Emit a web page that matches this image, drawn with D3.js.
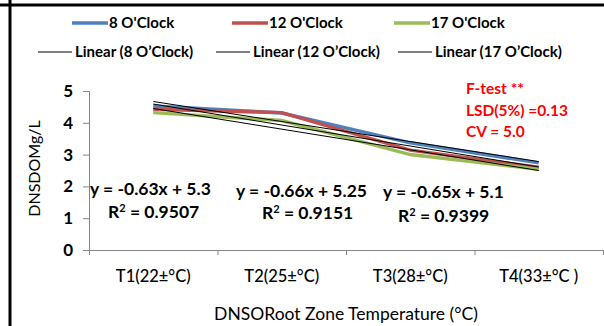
<!DOCTYPE html>
<html>
<head>
<meta charset="utf-8">
<script src="https://cdn.jsdelivr.net/npm/d3@7"></script>
<style>
  body { margin: 0; background: #fff; }
  text { font-family: Lato, "Open Sans", sans-serif; }
</style>
</head>
<body>
<div id="chart"></div>
<script>
const categories = ["T1(22±°C)", "T2(25±°C)", "T3(28±°C)", "T4(33±°C )"]

const eightOClock = [4.53, 4.31, 3.37, 2.74]
const twelveOClock = [4.43, 4.32, 3.14, 2.60]
const seventeenOClock = [4.32, 4.07, 3.00, 2.54]

const seriesNames = ["8 O'Clock", "12 O'Clock", "17 O'Clock"]
const trendNames = ["Linear (8 O’Clock)", "Linear (12 O’Clock)", "Linear (17 O’Clock)"]
const colors = ["#4F81BD", "#C0504D", "#9BBB59"]

// trendline equations as printed on the chart
const slopes = [-0.63, -0.66, -0.65]
const intercepts = [5.3, 5.25, 5.1]
const eqLabels = ["y = -0.63x + 5.3", "y = -0.66x + 5.25", "y = -0.65x + 5.1"]
const r2Labels = ["0.9507", "0.9151", "0.9399"]

const yTicks = [0, 1, 2, 3, 4, 5]
const statLines = ["F-test **", "LSD(5%) =0.13", "CV = 5.0"]

const fullWidth = 604
const fullHeight = 326

const plot = { left: 89, right: 603, top: 91, bottom: 250 }

const svg = d3.select("#chart")
              .append("svg")
              .attr("width", fullWidth)
              .attr("height", fullHeight)

// frame lines on the left and top
svg.append("line")
   .attr("x1", 10).attr("x2", 10).attr("y1", 0).attr("y2", fullHeight)
   .attr("stroke", "#000").attr("stroke-width", 3)
svg.append("line")
   .attr("x1", 0).attr("x2", fullWidth).attr("y1", 5).attr("y2", 5)
   .attr("stroke", "#000").attr("stroke-width", 3)

const xBand = d3.scaleBand()
                .domain(categories)
                .range([plot.left, plot.right])
const xCenter = c => xBand(c) + xBand.bandwidth() / 2

// category boundaries for the tick marks
const xEdges = d3.scaleLinear()
                 .domain([0, categories.length])
                 .range([plot.left, plot.right])

const yScale = d3.scaleLinear()
                 .domain([0, 5])
                 .range([plot.bottom, plot.top])

// axes
const xAxis = d3.axisBottom(xEdges)
                .ticks(categories.length)
                .tickSize(5)
                .tickSizeOuter(5)
                .tickFormat("")
const yAxis = d3.axisLeft(yScale)
                .tickValues(yTicks)
                .tickSize(6)
                .tickPadding(10)
                .tickFormat(d3.format("d"))

const gx = svg.append("g")
              .attr("transform", `translate(0,${plot.bottom})`)
              .call(xAxis)
const gy = svg.append("g")
              .attr("transform", `translate(${plot.left},0)`)
              .call(yAxis)

gx.selectAll("path, line").attr("stroke", "#868686")
gy.selectAll("path, line").attr("stroke", "#868686")
gy.selectAll("text")
  .attr("fill", "#000")
  .style("font-size", "17px")
  .style("font-weight", "bold")

svg.append("g")
   .selectAll("text")
   .data(categories)
   .enter()
   .append("text")
   .attr("x", d => xCenter(d))
   .attr("y", 282)
   .attr("text-anchor", "middle")
   .style("font-size", "16.5px")
   .style("font-weight", 500)
   .text(d => d)

// axis titles
svg.append("text")
   .attr("x", (plot.left + plot.right) / 2)
   .attr("y", 320)
   .attr("text-anchor", "middle")
   .style("font-size", "17.5px")
   .text("DNSORoot Zone Temperature (°C)")

svg.append("text")
   .attr("transform", `translate(40,${(plot.top + plot.bottom) / 2 - 2}) rotate(-90)`)
   .attr("text-anchor", "middle")
   .style("font-size", "16px")
   .text("DNSDOMg/L")

// data lines
const series = [eightOClock, twelveOClock, seventeenOClock]
const line = d3.line()
               .x((d, i) => xCenter(categories[i]))
               .y(d => yScale(d))

svg.append("g")
   .selectAll("path")
   .data(series)
   .enter()
   .append("path")
   .attr("d", d => line(d))
   .attr("fill", "none")
   .attr("stroke", (d, i) => colors[i])
   .attr("stroke-width", 3.5)

// linear trendlines, x = 1..4
const trendLine = d3.line()
                    .x(d => xCenter(categories[d.x - 1]))
                    .y(d => yScale(d.y))

svg.append("g")
   .selectAll("path")
   .data(slopes)
   .enter()
   .append("path")
   .attr("d", (s, i) => trendLine([1, categories.length].map(x => ({ x: x, y: s * x + intercepts[i] }))))
   .attr("fill", "none")
   .attr("stroke", "#000")
   .attr("stroke-width", 1)

// equation labels
const eqPos = [{ x: 90, y: 195, rx: 108, ry: 218 },
               { x: 236, y: 197, rx: 262, ry: 219 },
               { x: 383, y: 198, rx: 398, ry: 222 }]

const eqs = svg.append("g")
eqs.selectAll("text.eq")
   .data(eqLabels)
   .enter()
   .append("text")
   .classed("eq", true)
   .attr("x", (d, i) => eqPos[i].x)
   .attr("y", (d, i) => eqPos[i].y)
   .style("font-size", "17.5px")
   .style("font-weight", "bold")
   .text(d => d)

const r2 = eqs.selectAll("text.r2")
              .data(r2Labels)
              .enter()
              .append("text")
              .classed("r2", true)
              .attr("x", (d, i) => eqPos[i].rx)
              .attr("y", (d, i) => eqPos[i].ry)
              .style("font-size", "17.5px")
              .style("font-weight", "bold")
r2.append("tspan").text("R")
r2.append("tspan").attr("dy", -6).style("font-size", "11px").text("2")
r2.append("tspan").attr("dy", 6).text(d => " = " + d)

// statistics note
svg.append("g")
   .selectAll("text")
   .data(statLines)
   .enter()
   .append("text")
   .attr("x", 466)
   .attr("y", (d, i) => 94 + i * 21.5)
   .attr("fill", "#FF0000")
   .style("font-size", "15.5px")
   .style("font-weight", "bold")
   .text(d => d)

// legend
const legend = svg.append("g")
const legendX = [72, 232, 394]
const trendX = [38, 216, 398]

legend.selectAll("line.series")
      .data(seriesNames)
      .enter()
      .append("line")
      .attr("x1", (d, i) => legendX[i])
      .attr("x2", (d, i) => legendX[i] + 36)
      .attr("y1", 23).attr("y2", 23)
      .attr("stroke", (d, i) => colors[i])
      .attr("stroke-width", 3.5)

legend.selectAll("text.series")
      .data(seriesNames)
      .enter()
      .append("text")
      .attr("x", (d, i) => legendX[i] + 37)
      .attr("y", 28)
      .style("font-size", "15px")
      .style("font-weight", "bold")
      .text(d => d)

legend.selectAll("line.trend")
      .data(trendNames)
      .enter()
      .append("line")
      .attr("x1", (d, i) => trendX[i])
      .attr("x2", (d, i) => trendX[i] + 34)
      .attr("y1", 52).attr("y2", 52)
      .attr("stroke", "#000")
      .attr("stroke-width", 1)

legend.selectAll("text.trend")
      .data(trendNames)
      .enter()
      .append("text")
      .attr("x", (d, i) => trendX[i] + 37)
      .attr("y", 57)
      .style("font-size", "15px")
      .style("font-weight", "bold")
      .text(d => d)
</script>
</body>
</html>
